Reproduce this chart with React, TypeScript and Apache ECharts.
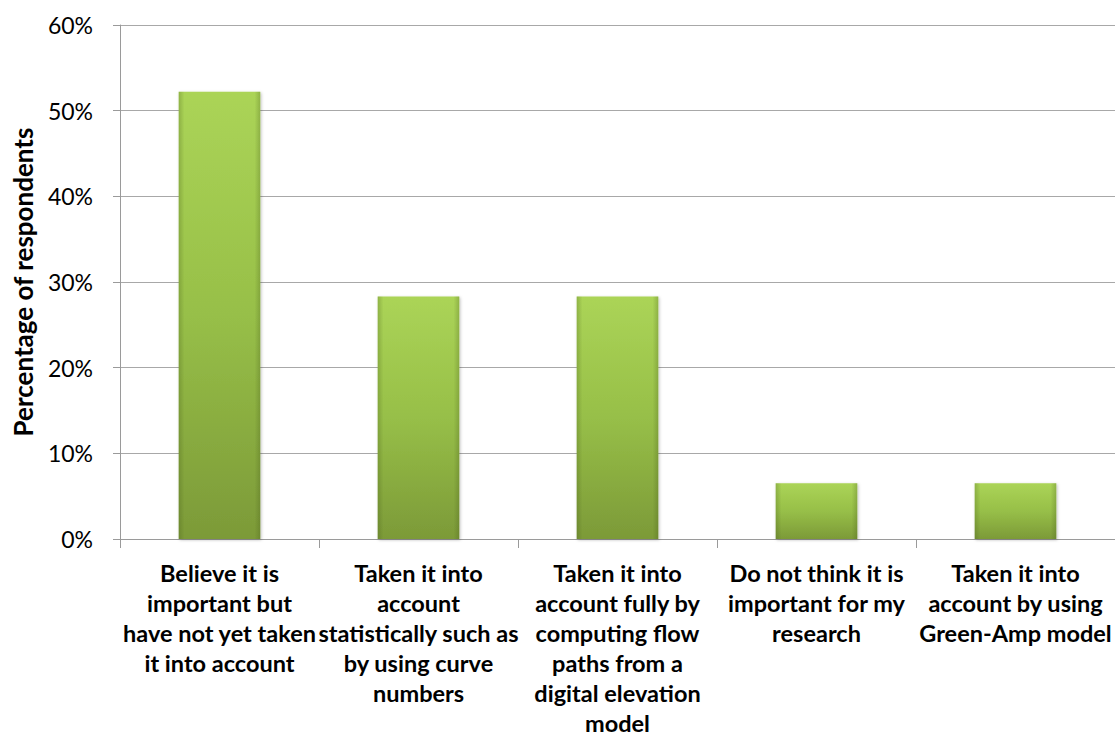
import React, { useEffect, useRef } from "react";
import * as echarts from "echarts";

// Survey responses: share of respondents per answer
const categories: string[] = [
  "Believe it is\nimportant but\nhave not yet taken\nit into account",
  "Taken it into\naccount\nstatistically such as\nby using curve\nnumbers",
  "Taken it into\naccount fully by\ncomputing flow\npaths from a\ndigital elevation\nmodel",
  "Do not think it is\nimportant for my\nresearch",
  "Taken it into\naccount by using\nGreen-Amp model",
];
const percentages: number[] = [52.2, 28.3, 28.3, 6.5, 6.5];
const yTicks = { min: 0, max: 60, interval: 10 };
const yAxisTitle = "Percentage of respondents";

export default function App() {
  const ref = useRef<HTMLDivElement>(null);

  useEffect(() => {
    if (!ref.current) return;
    const chart = echarts.init(ref.current, undefined, { renderer: "svg" });
    const axisGray = "#9a9a9a";
    chart.setOption({
      animation: false,
      backgroundColor: "#ffffff",
      grid: { left: 120, top: 25, width: 999, height: 522, containLabel: false },
      xAxis: {
        type: "category",
        data: categories,
        boundaryGap: true,
        axisLine: { lineStyle: { color: axisGray, width: 1 } },
        axisTick: { show: true, length: 9, lineStyle: { color: axisGray } },
        axisLabel: {
          interval: 0,
          margin: 19,
          fontFamily: "Lato",
          fontWeight: "bold",
          fontSize: 23.5,
          lineHeight: 30,
          color: "#000000",
          align: "center",
        },
        splitLine: { show: false },
      },
      yAxis: {
        type: "value",
        min: yTicks.min,
        max: yTicks.max,
        interval: yTicks.interval,
        name: yAxisTitle,
        nameLocation: "middle",
        nameGap: 84,
        nameTextStyle: {
          fontFamily: "Lato",
          fontWeight: "bold",
          fontSize: 26,
          color: "#000000",
        },
        axisLine: { show: true, lineStyle: { color: axisGray, width: 1 } },
        axisTick: { show: true, length: 7, lineStyle: { color: axisGray } },
        axisLabel: {
          formatter: (v: number) => `${v}%`,
          margin: 27,
          fontFamily: "Lato",
          fontSize: 23,
          color: "#000000",
        },
        splitLine: { show: true, lineStyle: { color: "#a8a8a8", width: 1 } },
      },
      series: [
        {
          type: "bar",
          data: percentages,
          barWidth: "41%",
          itemStyle: {
            color: new echarts.graphic.LinearGradient(0, 0, 0, 1, [
              { offset: 0, color: "#abd457" },
              { offset: 0.5, color: "#97bf48" },
              { offset: 1, color: "#7c9a38" },
            ]),
            shadowColor: "rgba(0,0,0,0.25)",
            shadowBlur: 3,
            shadowOffsetX: 1,
            shadowOffsetY: 1,
          },
        },
        {
          // soft darker side edges drawn over each bar
          type: "bar",
          data: percentages,
          barWidth: "41%",
          barGap: "-100%",
          silent: true,
          itemStyle: {
            color: new echarts.graphic.LinearGradient(0, 0, 1, 0, [
              { offset: 0, color: "rgba(60,80,20,0.25)" },
              { offset: 0.07, color: "rgba(60,80,20,0)" },
              { offset: 0.93, color: "rgba(60,80,20,0)" },
              { offset: 1, color: "rgba(60,80,20,0.25)" },
            ]),
          },
        },
      ],
    });
    return () => chart.dispose();
  }, []);

  return (
    <div
      ref={ref}
      style={{ position: "fixed", left: 0, top: 0, width: 1115, height: 738 }}
    />
  );
}
